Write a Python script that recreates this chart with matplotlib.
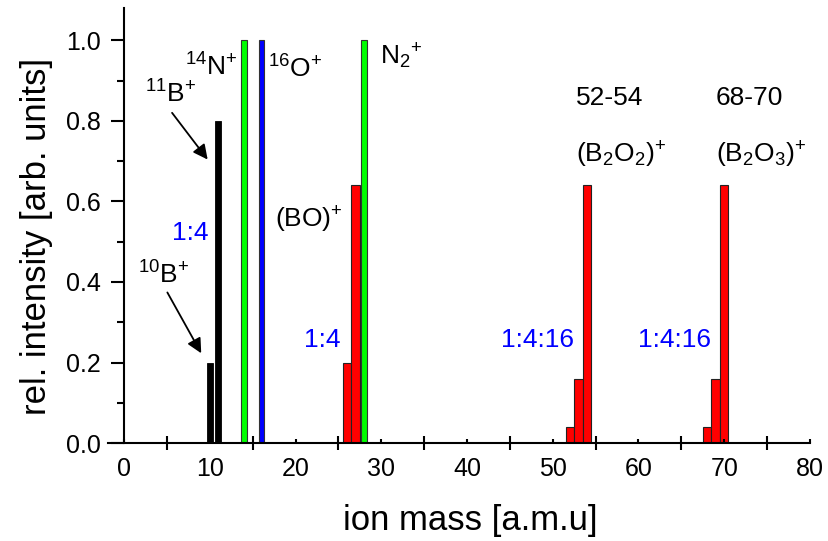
import numpy as np
import matplotlib
matplotlib.use('Agg')
import matplotlib.pyplot as plt

plt.rcParams['font.family'] = ['Liberation Sans', 'DejaVu Sans']
plt.rcParams['mathtext.fontset'] = 'custom'
plt.rcParams['mathtext.rm'] = 'Liberation Sans'

# boron isotopes
b_mass = [10, 11]
b_int = [0.2, 0.8]
# residual gas peaks
n_mass = [14]
n_int = [1.0]
o_mass = [16]
o_int = [1.0]
n2_mass = [28]
n2_int = [1.0]
# boron oxide clusters
bo_mass = [26, 27]
bo_int = [0.2, 0.64]
b2o2_mass = [52, 53, 54]
b2o2_int = [0.04, 0.16, 0.64]
b2o3_mass = [68, 69, 70]
b2o3_int = [0.04, 0.16, 0.64]

fig = plt.figure(figsize=(8.29, 5.41), dpi=100)
ax = fig.add_axes([0.130, 0.181, 0.847, 0.804])

ax.bar(b_mass, b_int, width=0.7, color='k', edgecolor='k', lw=0.6)
ax.bar(n_mass, n_int, width=0.75, color='#00ff00', edgecolor='#333333', lw=0.8)
ax.bar(o_mass, o_int, width=0.6, color='#0000ff', edgecolor='#333333', lw=0.8)
ax.bar(bo_mass, bo_int, width=1.0, color='#ff0000', edgecolor='#222222', lw=0.8)
ax.bar(n2_mass, n2_int, width=0.75, color='#00ff00', edgecolor='#333333', lw=0.8)
ax.bar(b2o2_mass, b2o2_int, width=1.0, color='#ff0000', edgecolor='#222222', lw=0.8)
ax.bar(b2o3_mass, b2o3_int, width=1.0, color='#ff0000', edgecolor='#222222', lw=0.8)

ax.set_xlim(-1.9, 80)
ax.set_ylim(0, 1.08)
ax.spines['left'].set_position(('data', 0))
ax.spines['top'].set_visible(False)
ax.spines['right'].set_visible(False)
ax.spines['left'].set_linewidth(1.5)
ax.spines['bottom'].set_linewidth(1.5)

ax.set_xticks(np.arange(0, 81, 10))
ax.set_xticks(np.arange(5, 80, 10), minor=True)
ax.set_yticks(np.arange(0, 1.01, 0.2))
ax.set_yticks(np.arange(0.1, 1.0, 0.2), minor=True)
ax.set_yticklabels(['%.1f' % v for v in np.arange(0, 1.01, 0.2)])
ax.tick_params(axis='x', which='major', direction='in', length=3, width=1.5,
               labelsize=18, pad=10)
ax.tick_params(axis='x', which='minor', direction='inout', length=10, width=1.5)
ax.tick_params(axis='y', which='major', direction='out', length=9.5, width=1.5,
               labelsize=18, pad=7)
ax.tick_params(axis='y', which='minor', direction='out', length=5, width=1.5)

ax.set_xlabel('ion mass [a.m.u]', fontsize=25)
ax.xaxis.set_label_coords(0.516, -0.14)
ax.set_ylabel('rel. intensity [arb. units]', fontsize=25)
ax.yaxis.set_label_coords(-0.078, 0.474)

fs = 19
ax.text(7.1, 0.935, r'$\mathregular{^{14}N^{+}}$', fontsize=fs, va='center')
ax.text(2.4, 0.866, r'$\mathregular{^{11}B^{+}}$', fontsize=fs, va='center')
ax.text(1.6, 0.418, r'$\mathregular{^{10}B^{+}}$', fontsize=fs, va='center')
ax.text(16.8, 0.928, r'$\mathregular{^{16}O^{+}}$', fontsize=fs, va='center')
ax.text(17.6, 0.555, r'$\mathregular{(BO)^{+}}$', fontsize=fs, va='center')
ax.text(29.8, 0.96, r'$\mathregular{N_{2}{}^{+}}$', fontsize=fs, va='center')
ax.text(52.7, 0.858, '52-54', fontsize=fs, va='center')
ax.text(52.7, 0.716, r'$\mathregular{(B_{2}O_{2})^{+}}$', fontsize=fs, va='center')
ax.text(69.0, 0.858, '68-70', fontsize=fs, va='center')
ax.text(69.0, 0.716, r'$\mathregular{(B_{2}O_{3})^{+}}$', fontsize=fs, va='center')

ax.text(9.9, 0.522, '1:4', fontsize=fs, color='#0000ff', va='center', ha='right')
ax.text(25.3, 0.256, '1:4', fontsize=fs, color='#0000ff', va='center', ha='right')
ax.text(52.5, 0.256, '1:4:16', fontsize=fs, color='#0000ff', va='center', ha='right')
ax.text(68.5, 0.256, '1:4:16', fontsize=fs, color='#0000ff', va='center', ha='right')

arrow = dict(arrowstyle='-|>', color='k', lw=1.3, mutation_scale=22, shrinkA=0, shrinkB=0)
ax.annotate('', xy=(9.75, 0.704), xytext=(5.6, 0.82), arrowprops=arrow)
ax.annotate('', xy=(9.0, 0.223), xytext=(5.05, 0.374), arrowprops=arrow)

fig.savefig('out.png', dpi=100)
